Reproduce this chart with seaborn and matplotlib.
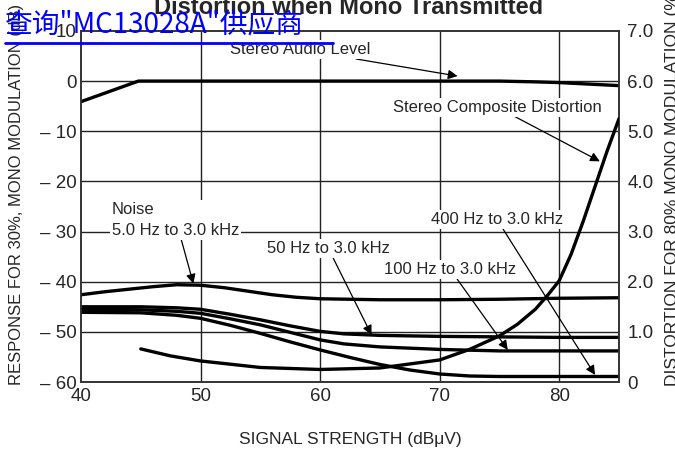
import numpy as np
import pandas as pd
import matplotlib
matplotlib.use('Agg')
import matplotlib.pyplot as plt
from matplotlib.lines import Line2D
import seaborn as sns

# Datos (eje izquierdo en dB, distorsión en %)
audio_x = [40, 44.8, 50, 55, 60, 65, 70, 75, 78, 80, 82.5, 85]
audio_y = [-4.1, 0, 0, 0, 0, 0, 0, 0, -0.15, -0.3, -0.6, -0.9]

noise_x = [40, 42, 44, 46, 48, 50, 52, 54, 56, 58, 60, 65, 70, 75, 80, 85]
noise_y = [-42.6, -42.0, -41.5, -41.0, -40.6, -40.7, -41.2, -41.9, -42.6, -43.1, -43.4, -43.6, -43.6, -43.5, -43.3, -43.2]

hz50_x = [40, 45, 48, 50, 52.5, 55, 57.5, 60, 62, 65, 70, 75, 80, 85]
hz50_y = [-45.0, -45.0, -45.2, -45.5, -46.5, -47.6, -48.8, -49.9, -50.4, -50.7, -50.9, -51.0, -51.1, -51.1]

hz100_x = [40, 45, 48, 50, 52.5, 55, 57.5, 60, 62, 65, 70, 75, 80, 85]
hz100_y = [-45.5, -45.6, -45.9, -46.3, -47.4, -48.6, -50.1, -51.6, -52.4, -53.0, -53.5, -53.8, -53.8, -53.8]

hz400_x = [40, 45, 48, 50, 52.5, 55, 57.5, 60, 62.5, 65, 67.5, 70, 72.5, 75, 80, 85]
hz400_y = [-46.1, -46.2, -46.7, -47.3, -48.7, -50.3, -52.0, -53.6, -55.1, -56.5, -57.6, -58.4, -58.8, -58.9, -58.9, -58.9]

dist_x = [45, 47.5, 50, 55, 60, 65, 70, 72.5, 75, 76.5, 78, 79, 80, 81, 82, 83, 84, 85]
dist_y = [0.66, 0.52, 0.42, 0.29, 0.25, 0.28, 0.44, 0.65, 0.92, 1.15, 1.45, 1.72, 2.02, 2.55, 3.2, 3.9, 4.6, 5.25]

x_ticks = [40, 50, 60, 70, 80]
left_ticks = [10, 0, -10, -20, -30, -40, -50, -60]
left_labels = ['10', '0', '\u2013 10', '\u2013 20', '\u2013 30', '\u2013 40', '\u2013 50', '\u2013 60']
right_ticks = [0, 1, 2, 3, 4, 5, 6, 7]
right_labels = ['0', '1.0', '2.0', '3.0', '4.0', '5.0', '6.0', '7.0']

sns.set_style('white')
plt.rcParams['font.family'] = ['Liberation Sans', 'DejaVu Sans']

fig = plt.figure(figsize=(6.75, 4.53), dpi=100)
ax = fig.add_axes([0.12, 0.1567, 0.797, 0.775])
ax2 = ax.twinx()

lw = 2.4
for xs, ys in [(audio_x, audio_y), (noise_x, noise_y), (hz50_x, hz50_y),
               (hz100_x, hz100_y), (hz400_x, hz400_y)]:
    sns.lineplot(x=xs, y=ys, ax=ax, color='black', linewidth=lw, sort=False, zorder=3)
sns.lineplot(x=dist_x, y=dist_y, ax=ax2, color='black', linewidth=lw, sort=False, zorder=3)

ax.set_xlim(40, 85)
ax.set_ylim(-60, 10)
ax2.set_ylim(0, 7)
ax.set_xticks(x_ticks)
ax.set_yticks(left_ticks)
ax.set_yticklabels(left_labels)
ax2.set_yticks(right_ticks)
ax2.set_yticklabels(right_labels)
ax.tick_params(axis='y', length=0, labelsize=13.5, pad=3)
ax.tick_params(axis='x', length=0, labelsize=13.5, pad=4)
ax2.tick_params(length=0, labelsize=13.5, pad=6)

for v in [50, 60, 70, 80]:
    ax.axvline(v, color='#222222', lw=1.0, zorder=1)
for h in [0, -10, -20, -30, -40, -50]:
    ax.axhline(h, color='#222222', lw=1.0, zorder=1)
for a in (ax, ax2):
    for s in a.spines.values():
        s.set_color('#333333')
        s.set_linewidth(1.2)

ax.set_xlabel('SIGNAL STRENGTH (dB\u03bcV)', fontsize=12.5, labelpad=20)
ax.set_ylabel('RESPONSE FOR 30%, MONO MODULATION (dB)', fontsize=12)
ax.yaxis.set_label_coords(-0.106, 0.535)
ax2.set_ylabel('DISTORTION FOR 80% MONO MODULATION (%)', fontsize=12.5)
ax2.yaxis.set_label_coords(1.085, 0.555)

box = dict(fc='white', ec='none', pad=1.5)
arrow = dict(arrowstyle='-|>', color='black', lw=0.9, mutation_scale=14, shrinkA=0, shrinkB=0)
fs = 12

ax.annotate('Stereo Audio Level', xy=(71.5, 1.0), xytext=(58.3, 6.3), fontsize=fs,
            ha='center', va='center', bbox=box, arrowprops=arrow, zorder=5)
ax.annotate('Stereo Composite Distortion', xy=(83.4, -16), xytext=(74.8, -5.2), fontsize=fs,
            ha='center', va='center', bbox=box, arrowprops=arrow, zorder=5)
ax.annotate('Noise\n5.0 Hz to 3.0 kHz', xy=(49.4, -40.4), xytext=(42.6, -27.6), fontsize=fs,
            ha='left', va='center', bbox=box, arrowprops=arrow, zorder=5, linespacing=1.5)
ax.annotate('50 Hz to 3.0 kHz', xy=(64.3, -50.6), xytext=(60.7, -33.4), fontsize=fs,
            ha='center', va='center', bbox=box, arrowprops=arrow, zorder=5)
ax.annotate('100 Hz to 3.0 kHz', xy=(75.7, -53.6), xytext=(70.9, -37.6), fontsize=fs,
            ha='center', va='center', bbox=box, arrowprops=arrow, zorder=5)
ax.annotate('400 Hz to 3.0 kHz', xy=(83.0, -58.6), xytext=(74.8, -27.6), fontsize=fs,
            ha='center', va='center', bbox=box, arrowprops=arrow, zorder=5)

fig.text(0.516, 0.969, 'Distortion when Mono Transmitted', ha='center', va='baseline',
         fontsize=17, fontweight='bold')

fig.text(0.007, 0.927, '\u67e5\u8be2"MC13028A"\u4f9b\u5e94\u5546', ha='left', va='baseline',
         fontsize=20, color='#0000ff', family=['Noto Sans CJK SC', 'DejaVu Sans'], zorder=10)
fig.add_artist(Line2D([0.007, 0.493], [0.904, 0.904], color='#0000ff', lw=2, transform=fig.transFigure))

fig.savefig('out.png', dpi=100)
